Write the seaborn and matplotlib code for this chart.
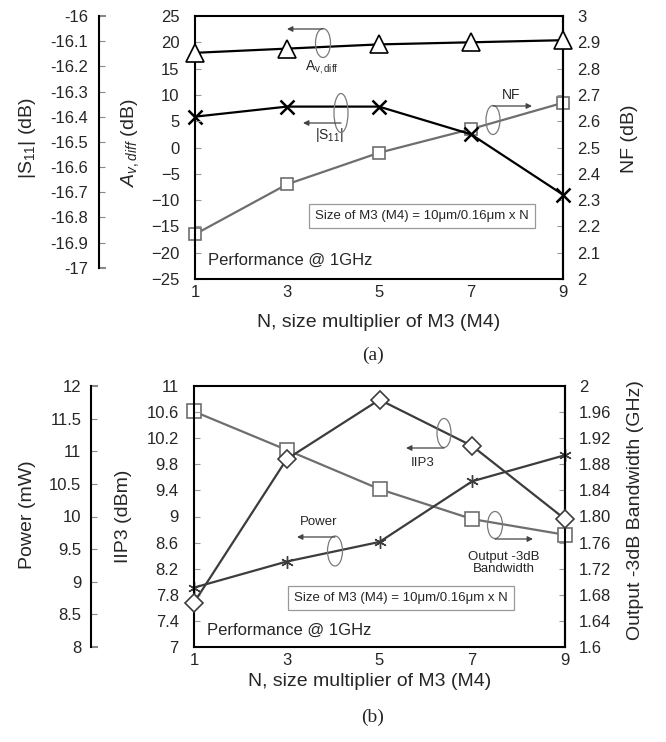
import matplotlib
matplotlib.use("Agg")
import matplotlib.pyplot as plt
from matplotlib.patches import Ellipse
import seaborn as sns

# ---------------- data ----------------
N = [1, 3, 5, 7, 9]
x_ticks = [1, 3, 5, 7, 9]

# (a)
av_diff = [18.0, 18.8, 19.6, 20.0, 20.4]          # dB, left axis
s11 = [-16.40, -16.36, -16.36, -16.47, -16.71]    # dB, outer left axis
nf = [2.17, 2.36, 2.48, 2.57, 2.67]               # dB, right axis

av_ticks = [-25, -20, -15, -10, -5, 0, 5, 10, 15, 20, 25]
s11_ticks = [-17, -16.9, -16.8, -16.7, -16.6, -16.5, -16.4, -16.3, -16.2, -16.1, -16]
s11_labels = ["-17", "-16.9", "-16.8", "-16.7", "-16.6", "-16.5", "-16.4", "-16.3", "-16.2", "-16.1", "-16"]
nf_ticks = [2, 2.1, 2.2, 2.3, 2.4, 2.5, 2.6, 2.7, 2.8, 2.9, 3]
nf_labels = ["2", "2.1", "2.2", "2.3", "2.4", "2.5", "2.6", "2.7", "2.8", "2.9", "3"]

# (b)
iip3 = [7.68, 9.88, 10.79, 10.08, 8.96]           # dBm, left axis
bandwidth = [1.961, 1.902, 1.842, 1.796, 1.772]   # GHz, right axis
power = [8.91, 9.31, 9.61, 10.54, 10.94]          # mW, outer left axis

iip3_ticks = [7, 7.4, 7.8, 8.2, 8.6, 9, 9.4, 9.8, 10.2, 10.6, 11]
iip3_labels = ["7", "7.4", "7.8", "8.2", "8.6", "9", "9.4", "9.8", "10.2", "10.6", "11"]
bw_ticks = [1.6, 1.64, 1.68, 1.72, 1.76, 1.80, 1.84, 1.88, 1.92, 1.96, 2.0]
bw_labels = ["1.6", "1.64", "1.68", "1.72", "1.76", "1.80", "1.84", "1.88", "1.92", "1.96", "2"]
pw_ticks = [8, 8.5, 9, 9.5, 10, 10.5, 11, 11.5, 12]
pw_labels = ["8", "8.5", "9", "9.5", "10", "10.5", "11", "11.5", "12"]

# ---------------- style ----------------
sns.set_style("white")
plt.rcParams["font.family"] = ["Liberation Sans", "DejaVu Sans"]
plt.rcParams["mathtext.fontset"] = "custom"
plt.rcParams["mathtext.rm"] = "Liberation Sans"
plt.rcParams["mathtext.it"] = "Liberation Sans:italic"
plt.rcParams["mathtext.bf"] = "Liberation Sans:bold"

W, H = 666, 742
fig = plt.figure(figsize=(W / 100, H / 100), dpi=100)
fig.patch.set_facecolor("white")
PT = 72 / 100  # points per pixel


def P(x, y):
    return (x / W, 1 - y / H)


TICK_C = "#999999"
GRAY = "#6e6e6e"
DARK = "#3c3c3c"
TL = 12


def style_main(ax):
    for s in ax.spines.values():
        s.set_color("black")
        s.set_linewidth(1.5)
        s.set_visible(True)
    ax.set_xlim(1, 9)
    ax.set_xticks(x_ticks)
    ax.tick_params(axis="x", direction="in", length=4, color=TICK_C, width=0.8,
                   labelsize=TL, pad=4, top=False)
    ax.tick_params(axis="y", direction="in", length=4, color=TICK_C, width=0.8,
                   labelsize=TL, pad=11, right=False)
    ax.grid(False)


def style_right(axr, pad):
    for k in ["left", "top", "bottom"]:
        axr.spines[k].set_visible(False)
    axr.spines["right"].set_color("black")
    axr.spines["right"].set_linewidth(1.5)
    axr.tick_params(axis="y", direction="in", length=4, color=TICK_C, width=0.8,
                    labelsize=TL, pad=pad)
    axr.grid(False)


def style_outer(axo, offset_px, pad):
    axo.patch.set_visible(False)
    for k in ["right", "top", "bottom"]:
        axo.spines[k].set_visible(False)
    axo.yaxis.tick_left()
    axo.yaxis.set_label_position("left")
    axo.spines["left"].set_visible(True)
    axo.spines["left"].set_position(("outward", offset_px * PT))
    axo.spines["left"].set_color("black")
    axo.spines["left"].set_linewidth(1.5)
    axo.tick_params(axis="y", direction="in", length=4, color="#888888", width=0.8,
                    labelsize=TL, pad=pad, left=True, right=False)
    axo.grid(False)


def end_caps(axo):
    ticks = axo.yaxis.get_major_ticks()
    for t in (ticks[0], ticks[-1]):
        t.tick1line.set_color("black")
        t.tick1line.set_markeredgewidth(1.5)
        t.tick1line.set_markersize(5)


# =============== (a) ===============
ax1 = fig.add_axes([195 / W, 1 - 279 / H, 368 / W, 263 / H])
ax1r = ax1.twinx()
ax1s = ax1.twinx()

style_main(ax1)
ax1.set_ylim(-25, 25)
ax1.set_yticks(av_ticks)

style_right(ax1r, 10)
ax1r.set_ylim(2, 3)
ax1r.set_yticks(nf_ticks)
ax1r.set_yticklabels(nf_labels)

style_outer(ax1s, 96, 8)
ax1s.set_ylim(-17.045, -16.0)
ax1s.set_yticks(s11_ticks)
ax1s.set_yticklabels(s11_labels)
ax1s.spines["left"].set_bounds(-17, -16)
end_caps(ax1s)

sns.lineplot(x=N, y=nf, ax=ax1r, color=GRAY, lw=1.6, marker="s", markersize=9,
             markerfacecolor="white", markeredgecolor=GRAY, markeredgewidth=1.2,
             legend=False, clip_on=False, zorder=3)
sns.lineplot(x=N, y=s11, ax=ax1s, color="black", lw=1.6, marker="x", markersize=10,
             markeredgecolor="black", markeredgewidth=1.8, legend=False,
             clip_on=False, zorder=4)
sns.lineplot(x=N, y=av_diff, ax=ax1, color="black", lw=1.6, marker="^", markersize=13,
             markerfacecolor="white", markeredgecolor="black", markeredgewidth=1.2,
             legend=False, clip_on=False, zorder=5)
ax1.set_zorder(ax1s.get_zorder() + 1)
ax1.patch.set_visible(False)

ax1.set_xlabel("N, size multiplier of M3 (M4)", fontsize=14)
ax1.xaxis.set_label_coords((379 - 195) / 368, 1 - (322 - 16) / 263)
ax1.xaxis.label.set_va("center")
ax1.set_ylabel("$A_{v,diff}$ (dB)", fontsize=14, va="center")
ax1.yaxis.set_label_coords((130 - 195) / 368, 0.52)
ax1r.set_ylabel("NF (dB)", fontsize=14, va="center", rotation=90)
ax1r.yaxis.set_label_coords((630 - 195) / 368, 0.535)
ax1s.set_ylabel("|S$_{11}$| (dB)", fontsize=14, va="center")
ax1s.yaxis.set_label_coords((27 - 195) / 368, 0.535)

# =============== (b) ===============
ax2 = fig.add_axes([194 / W, 1 - 647 / H, 371 / W, 261 / H])
ax2r = ax2.twinx()
ax2p = ax2.twinx()

style_main(ax2)
ax2.set_ylim(7, 11)
ax2.set_yticks(iip3_ticks)
ax2.set_yticklabels(iip3_labels)

style_right(ax2r, 10)
ax2r.set_ylim(1.6, 2.0)
ax2r.set_yticks(bw_ticks)
ax2r.set_yticklabels(bw_labels)

style_outer(ax2p, 103, 7)
ax2p.set_ylim(8, 12)
ax2p.set_yticks(pw_ticks)
ax2p.set_yticklabels(pw_labels)
end_caps(ax2p)

sns.lineplot(x=N, y=bandwidth, ax=ax2r, color=GRAY, lw=1.6, marker="s", markersize=10,
             markerfacecolor="white", markeredgecolor=GRAY, markeredgewidth=1.2,
             legend=False, clip_on=False, zorder=3)
sns.lineplot(x=N, y=power, ax=ax2p, color=DARK, lw=1.6, marker=(6, 2, 0), markersize=9,
             markeredgecolor=DARK, markeredgewidth=1.0, legend=False,
             clip_on=False, zorder=4)
sns.lineplot(x=N, y=iip3, ax=ax2, color=DARK, lw=1.6, marker="D", markersize=9,
             markerfacecolor="white", markeredgecolor=DARK, markeredgewidth=1.2,
             legend=False, clip_on=False, zorder=5)
ax2.set_zorder(ax2p.get_zorder() + 1)
ax2.patch.set_visible(False)

ax2.set_xlabel("N, size multiplier of M3 (M4)", fontsize=14)
ax2.xaxis.set_label_coords((370 - 194) / 371, 1 - (682 - 386) / 261)
ax2.xaxis.label.set_va("center")
ax2.set_ylabel("IIP3 (dBm)", fontsize=14, va="center")
ax2.yaxis.set_label_coords((123 - 194) / 371, 0.5)
ax2r.set_ylabel("Output -3dB Bandwidth (GHz)", fontsize=14, va="center", rotation=90)
ax2r.yaxis.set_label_coords((635 - 194) / 371, 0.525)
ax2p.set_ylabel("Power (mW)", fontsize=14, va="center")
ax2p.yaxis.set_label_coords((27 - 194) / 371, 0.506)

# =============== annotations ===============
ANN = "#7a7a7a"


def ellipse(cx, cy, w, h):
    e = Ellipse(P(cx, cy), w / W, h / H, transform=fig.transFigure, fill=False,
                ec=ANN, lw=0.9, zorder=10)
    fig.add_artist(e)


def arrow(x1, x2, y):
    fig.add_artist(matplotlib.patches.FancyArrowPatch(
        P(x1, y), P(x2, y), transform=fig.transFigure, arrowstyle="-|>",
        mutation_scale=8, color="#444444", lw=0.9, shrinkA=0, shrinkB=0, zorder=10))


def label(x, y, s, size=9.5, **kw):
    fig.text(x / W, 1 - y / H, s, fontsize=size, ha="center", va="center", **kw)


# (a)
ellipse(323, 43, 15, 29)
arrow(323, 287, 29)
label(322, 67, "A$_{\\mathrm{v,diff}}$", size=10)
ellipse(341, 113, 14, 39)
arrow(341, 303, 123)
label(329, 135, "|S$_{11}$|", size=10)
ellipse(493, 120, 14, 29)
arrow(493, 532, 106)
label(511, 95, "NF", size=10)
fig.text(422 / W, 1 - 216 / H, "Size of M3 (M4) = 10μm/0.16μm x N", fontsize=9.5,
         ha="center", va="center",
         bbox=dict(boxstyle="square,pad=0.45", fc="white", ec="#999999", lw=0.9))
fig.text(208 / W, 1 - 260 / H, "Performance @ 1GHz", fontsize=12, ha="left", va="center")

# (b)
ellipse(444, 433, 14, 29)
arrow(444, 406, 448)
label(423, 463, "IIP3")
ellipse(335, 551, 15, 30)
arrow(335, 297, 537)
label(319, 522, "Power")
ellipse(495, 525, 15, 27)
arrow(495, 533, 539)
label(504, 563, "Output -3dB\nBandwidth", linespacing=1.1)
fig.text(401 / W, 1 - 598 / H, "Size of M3 (M4) = 10μm/0.16μm x N", fontsize=9.5,
         ha="center", va="center",
         bbox=dict(boxstyle="square,pad=0.45", fc="white", ec="#999999", lw=0.9))
fig.text(207 / W, 1 - 630 / H, "Performance @ 1GHz", fontsize=12, ha="left", va="center")

# captions
fig.text(373 / W, 1 - 355 / H, "(a)", fontsize=14, ha="center", va="center",
         family=["Liberation Serif", "DejaVu Serif"])
fig.text(373 / W, 1 - 717 / H, "(b)", fontsize=14, ha="center", va="center",
         family=["Liberation Serif", "DejaVu Serif"])

fig.savefig("out.png", dpi=100, facecolor="white")
